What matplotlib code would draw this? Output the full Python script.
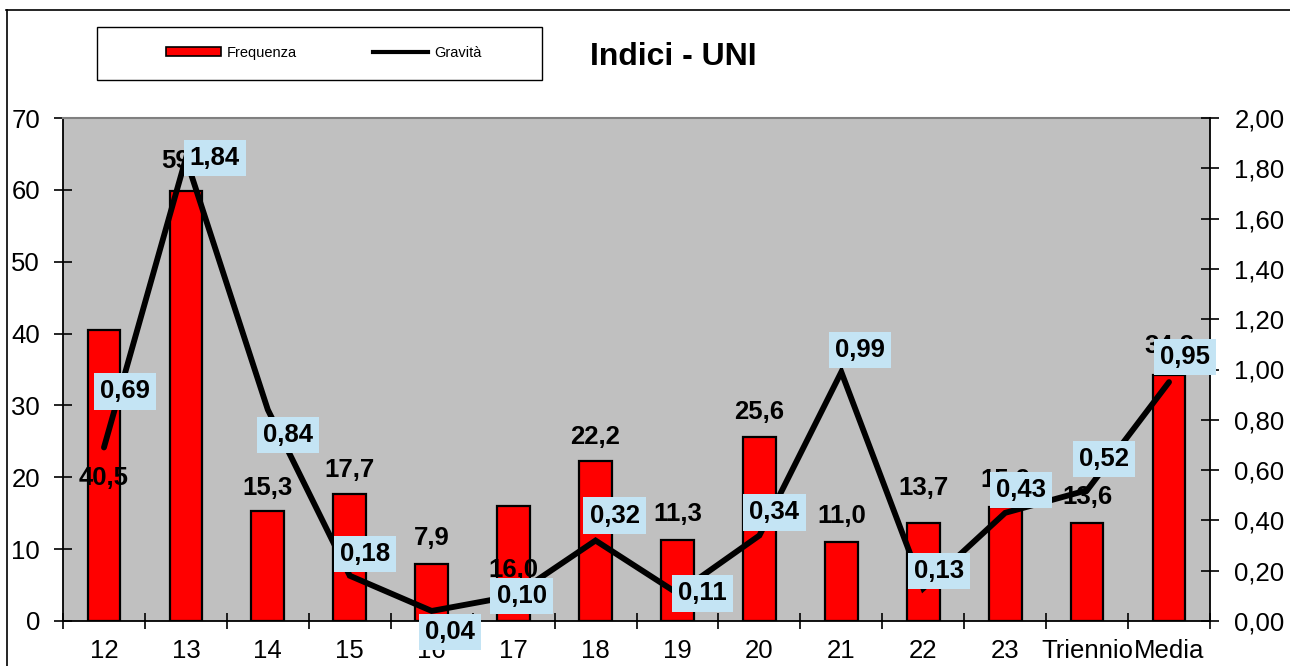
import matplotlib
matplotlib.use("Agg")
import matplotlib.pyplot as plt
from matplotlib.patches import Patch, Rectangle
from matplotlib.lines import Line2D

plt.rcParams['font.family'] = ['Liberation Sans', 'DejaVu Sans']

# ---- data ----
categories = ["12", "13", "14", "15", "16", "17", "18", "19", "20", "21", "22", "23", "Triennio", "Media"]
frequenza = [40.5, 59.9, 15.3, 17.7, 7.9, 16.0, 22.2, 11.3, 25.6, 11.0, 13.7, 15.9, 13.6, 34.2]
gravita = [0.69, 1.84, 0.84, 0.18, 0.04, 0.10, 0.32, 0.11, 0.34, 0.99, 0.13, 0.43, 0.52, 0.95]
left_ticks = [0, 10, 20, 30, 40, 50, 60, 70]
right_ticks = [0.0, 0.2, 0.4, 0.6, 0.8, 1.0, 1.2, 1.4, 1.6, 1.8, 2.0]

# label placement offsets (pixels)
bar_label_dy = [-148, 30, 23, 24, 26, -64, 24, 26, 25, 26, 35, 27, 26, 29]
grav_label_off = [(21, 56), (29, 0), (20, -25), (15, 22), (18, -21), (8, 0), (19, 25),
                  (25, 0), (15, 23), (19, 22), (16, 17), (16, 23), (17, 31), (16, 25)]

PX = 0.72  # points per pixel at dpi 100

fig = plt.figure(figsize=(12.9, 6.66), dpi=100)
fig.patch.set_facecolor('white')

ax = fig.add_axes([63 / 1290, (666 - 621) / 666, (1210 - 63) / 1290, (621 - 118) / 666])
ax.set_facecolor('#C0C0C0')
x = list(range(len(categories)))

ax.bar(x, frequenza, width=0.40, color='#FF0000', edgecolor='black', linewidth=1.6, zorder=2)
ax.set_xlim(-0.5, len(categories) - 0.5)
ax.set_ylim(0, 70)
ax.set_yticks(left_ticks)
ax.set_yticklabels([str(t) for t in left_ticks], fontsize=18.5)

ax.set_xticks([i - 0.5 for i in range(len(categories) + 1)])
ax.set_xticklabels([])
ax.set_xticks(x, minor=True)
ax.set_xticklabels(categories, minor=True, fontsize=18.5)
ax.tick_params(axis='x', which='major', direction='inout', length=12, width=1.2)
ax.tick_params(axis='x', which='minor', length=0, pad=13)
ax.tick_params(axis='y', direction='inout', length=13, width=1.2, pad=10)

for s in ['left', 'bottom']:
    ax.spines[s].set_color('black')
    ax.spines[s].set_linewidth(1.3)
ax.spines['top'].set_color('#808080')
ax.spines['top'].set_linewidth(1.5)
ax.spines['right'].set_visible(False)

for i, v in enumerate(frequenza):
    ax.annotate(f"{v:.1f}".replace('.', ','), xy=(i, v), xytext=(0, bar_label_dy[i] * PX),
                textcoords='offset points', ha='center', va='center',
                fontsize=18.5, fontweight='bold', color='black', zorder=3)

ax2 = ax.twinx()
ax2.plot(x, gravita, color='black', linewidth=4.2, solid_capstyle='round',
         solid_joinstyle='miter', zorder=4)
ax2.set_ylim(0, 2.0)
ax2.set_yticks(right_ticks)
ax2.set_yticklabels([f"{t:.2f}".replace('.', ',') for t in right_ticks], fontsize=18.5)
ax2.tick_params(axis='y', direction='inout', length=13, width=1.2, pad=11)
for s in ['top', 'left', 'bottom']:
    ax2.spines[s].set_visible(False)
ax2.spines['right'].set_color('black')
ax2.spines['right'].set_linewidth(1.3)

for i, g in enumerate(gravita):
    dx, dy = grav_label_off[i]
    ax2.annotate(f"{g:.2f}".replace('.', ','), xy=(i, g), xytext=(dx * PX, dy * PX),
                 textcoords='offset points', ha='center', va='center',
                 fontsize=18.5, fontweight='bold', color='black', zorder=6,
                 bbox=dict(boxstyle='square,pad=0.24', facecolor='#C4E4F4', edgecolor='none'))

# legend box
fig.patches.append(Rectangle((97 / 1290, (666 - 80) / 666), 445 / 1290, 53 / 666,
                             transform=fig.transFigure, facecolor='white',
                             edgecolor='black', linewidth=1.0, zorder=1))
handles = [Patch(facecolor='#FF0000', edgecolor='black', linewidth=1.2),
           Line2D([], [], color='black', linewidth=3)]
leg = fig.legend(handles, ['Frequenza', 'Gravità'], loc='center', ncol=2,
                 bbox_to_anchor=(323.5 / 1290, (666 - 53) / 666), frameon=False,
                 fontsize=10.5, handlelength=3.8, handletextpad=0.4, columnspacing=5.2,
                 handleheight=0.6)

fig.text(673.5 / 1290, (666 - 65) / 666, "Indici - UNI", ha='center', va='baseline',
         fontsize=23, fontweight='bold')

# outer frame
fig.lines.append(Line2D([6 / 1290, 1.0], [656 / 666, 656 / 666], transform=fig.transFigure,
                        color='black', linewidth=1.2))
fig.lines.append(Line2D([7 / 1290, 7 / 1290], [656 / 666, 0.0], transform=fig.transFigure,
                        color='black', linewidth=1.2))

fig.savefig('out.png', dpi=100)
